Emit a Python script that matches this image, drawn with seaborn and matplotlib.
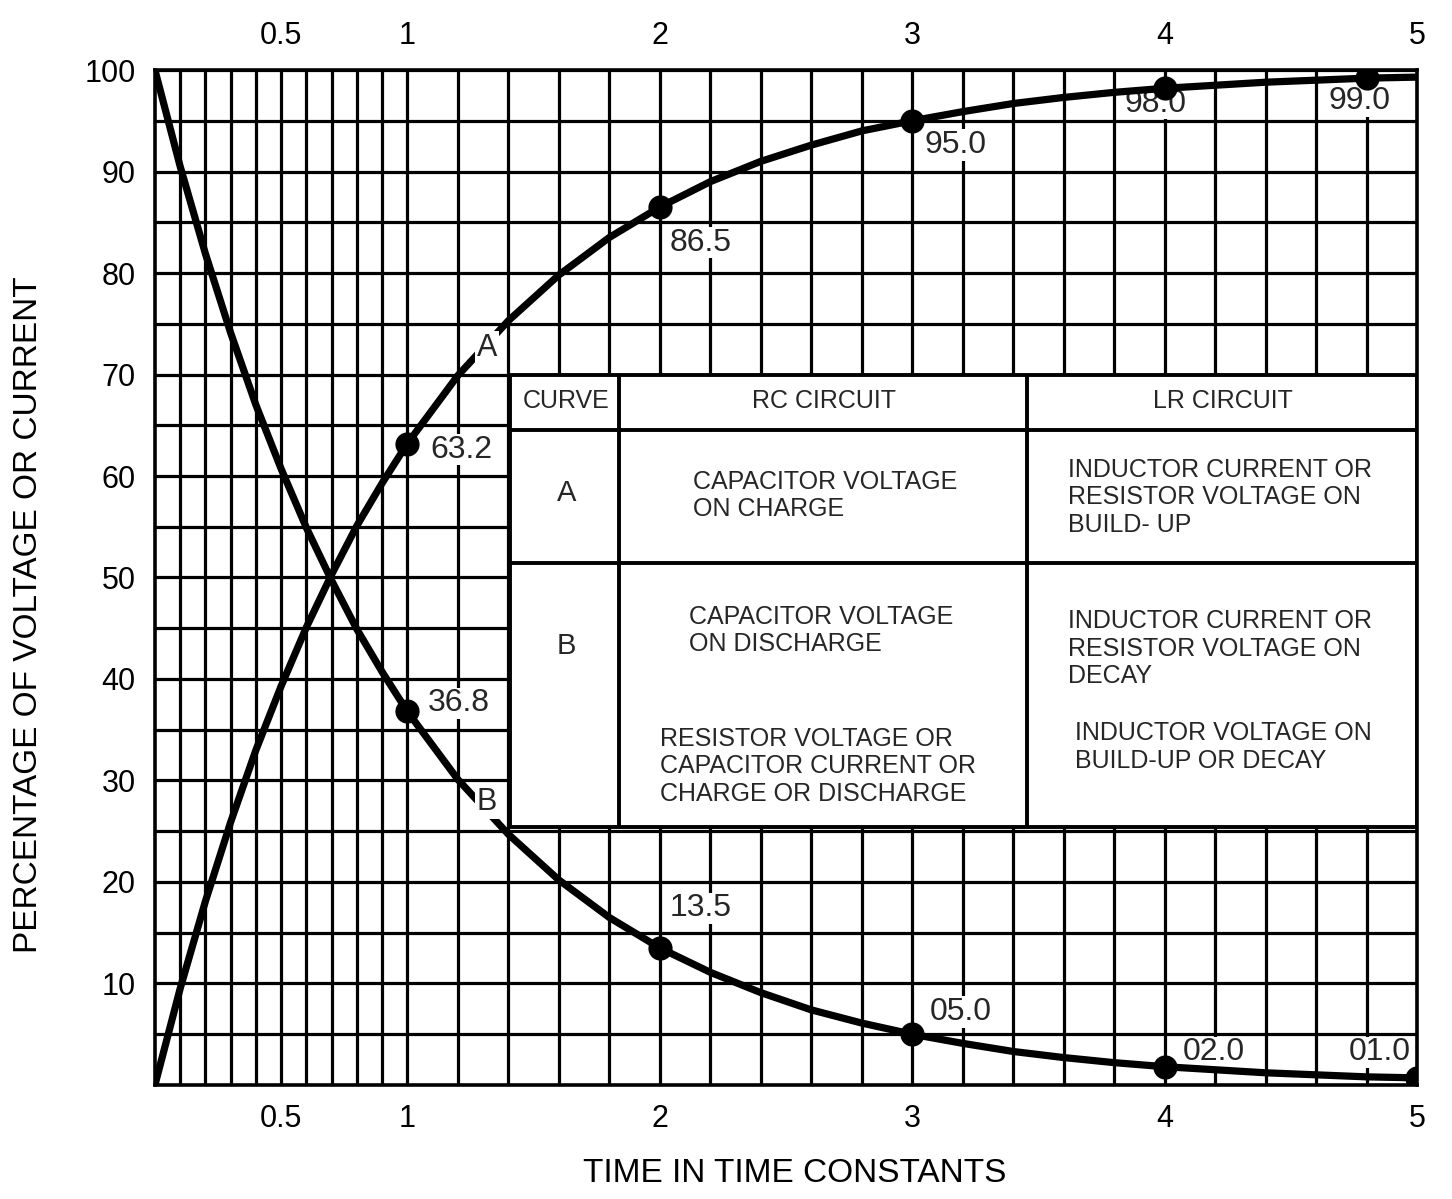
import numpy as np
import pandas as pd
import matplotlib
matplotlib.use("Agg")
import matplotlib.pyplot as plt
import seaborn as sns
from matplotlib.patches import Rectangle

# curve values (time constants vs percent)
time_tc = [0.0, 0.1, 0.2, 0.3, 0.4, 0.5, 0.6, 0.7, 0.8, 0.9, 1.0,
           1.2, 1.4, 1.6, 1.8, 2.0, 2.2, 2.4, 2.6, 2.8, 3.0,
           3.2, 3.4, 3.6, 3.8, 4.0, 4.2, 4.4, 4.6, 4.8, 5.0]
curve_a = [0.0, 9.5, 18.1, 25.9, 33.0, 39.3, 45.1, 50.3, 55.1, 59.3, 63.2,
           69.9, 75.3, 79.8, 83.5, 86.5, 89.0, 91.0, 92.6, 94.0, 95.0,
           95.9, 96.7, 97.3, 97.8, 98.2, 98.5, 98.8, 99.0, 99.2, 99.3]
curve_b = [100.0, 90.5, 81.9, 74.1, 67.0, 60.7, 54.9, 49.7, 44.9, 40.7, 36.8,
           30.1, 24.7, 20.2, 16.5, 13.5, 11.1, 9.1, 7.4, 6.1, 5.0,
           4.1, 3.3, 2.7, 2.2, 1.8, 1.5, 1.2, 1.0, 0.8, 0.7]

# marked points and their printed labels
pts_a_x = [1, 2, 3, 4, 4.8]
pts_a_y = [63.2, 86.5, 95.0, 98.2, 99.2]
pts_a_lbl = ["63.2", "86.5", "95.0", "98.0", "99.0"]
pts_b_x = [1, 2, 3, 4, 5]
pts_b_y = [36.8, 13.5, 5.0, 1.8, 0.7]
pts_b_lbl = ["36.8", "13.5", "05.0", "02.0", "01.0"]

x_ticks = [0.5, 1, 2, 3, 4, 5]
x_tick_labels = ["0.5", "1", "2", "3", "4", "5"]
y_ticks = [10, 20, 30, 40, 50, 60, 70, 80, 90, 100]

# table contents
table_header = ["CURVE", "RC CIRCUIT", "LR CIRCUIT"]
rc_a = "CAPACITOR VOLTAGE\nON CHARGE"
lr_a = "INDUCTOR CURRENT OR\nRESISTOR VOLTAGE ON\nBUILD- UP"
rc_b1 = "CAPACITOR VOLTAGE\nON DISCHARGE"
rc_b2 = "RESISTOR VOLTAGE OR\nCAPACITOR CURRENT OR\nCHARGE OR DISCHARGE"
lr_b1 = "INDUCTOR CURRENT OR\nRESISTOR VOLTAGE ON\nDECAY"
lr_b2 = "INDUCTOR VOLTAGE ON\nBUILD-UP OR DECAY"

df = pd.DataFrame({"t": time_tc, "A": curve_a, "B": curve_b})

sns.set_theme(style="white")
plt.rcParams["font.family"] = ["Liberation Sans", "DejaVu Sans"]

fig = plt.figure(figsize=(14.52, 11.99), dpi=100)
ax = fig.add_axes([0.1067, 0.0951, 0.8693, 0.8465])

# curves
sns.lineplot(data=df, x="t", y="A", color="black", linewidth=5.2, ax=ax, zorder=4)
sns.lineplot(data=df, x="t", y="B", color="black", linewidth=5.2, ax=ax, zorder=4)
sns.scatterplot(x=pts_a_x, y=pts_a_y, color="black", s=260, edgecolor="black", ax=ax, zorder=5)
sns.scatterplot(x=pts_b_x, y=pts_b_y, color="black", s=260, edgecolor="black", ax=ax, zorder=5)

ax.set_xlim(0, 5)
ax.set_ylim(0, 100)

# grid: 0.1 steps up to 1, then 0.2 steps; 5% horizontally
ax.set_xticks(x_ticks)
ax.set_xticklabels(x_tick_labels)
ax.set_xticks(list(np.arange(0.1, 1.0, 0.1)) + list(np.arange(1.2, 5.0, 0.2)), minor=True)
ax.set_yticks(y_ticks)
ax.set_yticklabels([str(v) for v in y_ticks])
ax.set_yticks(np.arange(5, 100, 10), minor=True)
ax.set_axisbelow(True)
ax.grid(True, which="both", color="black", linewidth=2.3)
ax.tick_params(axis="both", which="both", length=0, labelsize=22, colors="black")
ax.tick_params(axis="x", top=True, labeltop=True, pad=14)
ax.tick_params(axis="y", pad=14)
for sp in ax.spines.values():
    sp.set_color("black")
    sp.set_linewidth(2.6)

ax.set_xlabel("TIME IN TIME CONSTANTS", fontsize=24, color="black")
ax.set_ylabel("PERCENTAGE OF VOLTAGE OR CURRENT", fontsize=24, color="black")
ax.xaxis.set_label_coords(0.507, -0.072)
ax.yaxis.set_label_coords(-0.088, 0.463)

# point labels
box = dict(facecolor="white", edgecolor="none", pad=0.5)
a_pos = [(1.09, 62.6), (2.04, 83.0), (3.05, 92.6), (3.84, 96.7), (4.65, 96.9)]
b_pos = [(1.08, 37.6), (2.04, 17.4), (3.07, 7.2), (4.07, 3.2), (4.73, 3.2)]
for lbl, (tx, ty) in zip(pts_a_lbl + pts_b_lbl, a_pos + b_pos):
    ax.text(tx, ty, lbl, fontsize=23, ha="left", va="center", bbox=box, zorder=3)

# curve names
ax.text(1.315, 72.6, "A", fontsize=22, ha="center", va="center",
        bbox=dict(facecolor="white", edgecolor="none", pad=1.5), zorder=6)
ax.text(1.315, 27.9, "B", fontsize=22, ha="center", va="center",
        bbox=dict(facecolor="white", edgecolor="none", pad=1.5), zorder=6)

# table
tx0, tx1, c1, c2 = 1.405, 5.0, 1.84, 3.455
ty0, ty1, r1, r2 = 25.4, 70.0, 64.5, 51.4
ax.add_patch(Rectangle((tx0, ty0), tx1 - tx0, ty1 - ty0, facecolor="white",
                       edgecolor="black", linewidth=2.8, zorder=2))
ax.hlines([r1, r2], tx0, tx1, color="black", linewidth=2.8, zorder=2.1)
ax.vlines([c1, c2], ty0, ty1, color="black", linewidth=2.8, zorder=2.1)

tfs = 18
ax.text(1.63, 67.4, table_header[0], fontsize=tfs, ha="center", va="center", zorder=3)
ax.text(2.65, 67.4, table_header[1], fontsize=tfs, ha="center", va="center", zorder=3)
ax.text(4.23, 67.4, table_header[2], fontsize=tfs, ha="center", va="center", zorder=3)
ax.text(1.63, 58.3, "A", fontsize=21, ha="center", va="center", zorder=3)
ax.text(1.63, 43.3, "B", fontsize=21, ha="center", va="center", zorder=3)
kw = dict(fontsize=tfs, ha="left", va="center", linespacing=1.17, zorder=3)
ax.text(2.13, 58.1, rc_a, **kw)
ax.text(3.617, 57.9, lr_a, **kw)
ax.text(2.116, 44.8, rc_b1, **kw)
ax.text(2.0, 31.4, rc_b2, **kw)
ax.text(3.617, 43.0, lr_b1, **kw)
ax.text(3.645, 33.3, lr_b2, **kw)

fig.savefig("out.png", dpi=100, facecolor="white")
